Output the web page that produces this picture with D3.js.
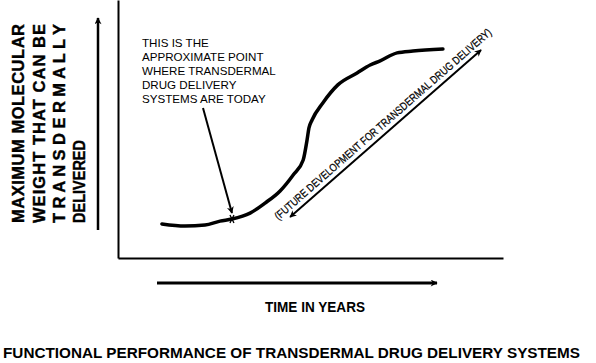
<!DOCTYPE html>
<html>
<head>
<meta charset="utf-8">
<script src="https://cdn.jsdelivr.net/npm/d3@7"></script>
<style>
  body { margin: 0; background: #fff; }
  svg { display: block; }
</style>
</head>
<body>
<div id="chart"></div>
<script>
// curve: time (0-100) vs max molecular weight (0-100), arbitrary units
const curveYears = [11.4, 17.4, 22.6, 26.5, 29.6, 34.3, 38.2, 42.1, 45.5, 48.1, 49.1, 49.6, 50.4, 53.2, 57.1, 62.1, 65.5, 68.1, 72.5, 76.6, 84.4];
const curveWeight = [13.2, 12.4, 12.8, 14.3, 15.1, 17.4, 21.3, 26.0, 32.2, 38.0, 45.7, 50.4, 53.5, 60.1, 67.1, 71.7, 74.8, 76.4, 79.5, 80.2, 81.0];

// "today" point and the future-development arrow (data units)
const todayPoint = { year: 29.6, weight: 15.1 };
const futureArrow = [{ year: 44.7, weight: 15.9 }, { year: 94.3, weight: 80.6 }];

const yLabelLines = ['MAXIMUM MOLECULAR', 'WEIGHT THAT CAN BE', 'T R A N S D E R M A L L Y', 'DELIVERED'];
const noteLines = ['THIS IS THE', 'APPROXIMATE POINT', 'WHERE TRANSDERMAL', 'DRUG DELIVERY', 'SYSTEMS ARE TODAY'];
const futureLabel = '(FUTURE DEVELOPMENT FOR TRANSDERMAL DRUG DELIVERY)';
const xLabel = 'TIME IN YEARS';
const title = 'FUNCTIONAL PERFORMANCE OF TRANSDERMAL DRUG DELIVERY SYSTEMS';

const width = 596, height = 363;
const margin = { top: 0, left: 118, right: 93, bottom: 105 };

const svg = d3.select('#chart').append('svg')
  .attr('width', width)
  .attr('height', height);

const x = d3.scaleLinear().domain([0, 100]).range([margin.left, width - margin.right]);
const y = d3.scaleLinear().domain([0, 100]).range([height - margin.bottom, margin.top]);

// arrow markers
const defs = svg.append('defs');
function marker(id, w, h) {
  defs.append('marker')
    .attr('id', id)
    .attr('viewBox', '0 0 10 10')
    .attr('refX', 9).attr('refY', 5)
    .attr('markerUnits', 'userSpaceOnUse')
    .attr('markerWidth', w).attr('markerHeight', h)
    .attr('orient', 'auto-start-reverse')
    .append('path')
    .attr('d', 'M0,0 L10,5 L0,10 L3,5 Z')
    .attr('fill', '#000');
}
marker('arr', 8, 7);
marker('arrSmall', 8, 7);

// axes frame (no ticks)
svg.append('g')
  .attr('transform', `translate(${margin.left},0)`)
  .call(d3.axisLeft(y).tickValues([]).tickSizeOuter(0))
  .select('.domain').attr('stroke-width', 2);

svg.append('g')
  .attr('transform', `translate(0,${y(0)})`)
  .call(d3.axisBottom(x).tickValues([]).tickSizeOuter(0))
  .select('.domain').attr('stroke-width', 2);

// y direction arrow
svg.append('line')
  .attr('x1', 98).attr('x2', 98)
  .attr('y1', 230).attr('y2', 18)
  .attr('stroke', '#000').attr('stroke-width', 2.5)
  .attr('marker-end', 'url(#arr)');

// x direction arrow
svg.append('line')
  .attr('x1', 157).attr('x2', 437)
  .attr('y1', 283).attr('y2', 283)
  .attr('stroke', '#000').attr('stroke-width', 3)
  .attr('marker-end', 'url(#arr)');

// y label (rotated)
const yBase = [24, 45, 65, 85];
const yLen = [199, 199, 199, 83];
yLabelLines.forEach((t, i) => {
  svg.append('text')
    .attr('transform', `translate(${yBase[i]},223) rotate(-90)`)
    .attr('font-family', 'Liberation Sans, Arial, sans-serif')
    .attr('font-weight', 'bold')
    .attr('font-size', 16.5)
    .attr('stroke', '#000').attr('stroke-width', 0.4)
    .attr('textLength', yLen[i])
    .attr('lengthAdjust', i === 3 ? 'spacingAndGlyphs' : 'spacing')
    .text(t);
});

// curve
const pts = curveYears.map((d, i) => [d, curveWeight[i]]);
svg.append('path')
  .datum(pts)
  .attr('d', d3.line().x(d => x(d[0])).y(d => y(d[1])).curve(d3.curveMonotoneX))
  .attr('fill', 'none')
  .attr('stroke', '#000')
  .attr('stroke-width', 3.5)
  .attr('stroke-linecap', 'round');

// today marker
const tx = x(todayPoint.year), ty = y(todayPoint.weight);
svg.append('path')
  .attr('d', `M${tx - 2},${ty - 4}L${tx + 2},${ty + 4}M${tx + 2},${ty - 4}L${tx - 2},${ty + 4}`)
  .attr('stroke', '#000').attr('stroke-width', 1.3);

// note text
noteLines.forEach((t, i) => {
  svg.append('text')
    .attr('x', 142)
    .attr('y', 47 + i * 14)
    .attr('font-family', 'Liberation Sans, Arial, sans-serif')
    .attr('font-size', 11.6)
    .text(t);
});

// note arrow to today point
svg.append('line')
  .attr('x1', 203).attr('y1', 108)
  .attr('x2', tx).attr('y2', ty - 6)
  .attr('stroke', '#000').attr('stroke-width', 2)
  .attr('marker-end', 'url(#arrSmall)');

// future development double arrow
const fx1 = x(futureArrow[0].year), fy1 = y(futureArrow[0].weight);
const fx2 = x(futureArrow[1].year), fy2 = y(futureArrow[1].weight);
svg.append('line')
  .attr('x1', fx1).attr('y1', fy1)
  .attr('x2', fx2).attr('y2', fy2)
  .attr('stroke', '#000').attr('stroke-width', 2)
  .attr('marker-start', 'url(#arrSmall)')
  .attr('marker-end', 'url(#arrSmall)');

const ang = Math.atan2(fy2 - fy1, fx2 - fx1);
const ux = Math.cos(ang), uy = Math.sin(ang);
const nx = uy, ny = -ux; // normal pointing up-left
const sx = fx1 - 11 * ux + 5 * nx, sy = fy1 - 11 * uy + 5 * ny;
svg.append('text')
  .attr('transform', `translate(${sx},${sy}) rotate(${ang * 180 / Math.PI})`)
  .attr('font-family', 'Liberation Sans Narrow, Liberation Sans, Arial, sans-serif')
  .attr('font-size', 11)
  .attr('stroke', '#000').attr('stroke-width', 0.25)
  .attr('textLength', 284)
  .attr('lengthAdjust', 'spacingAndGlyphs')
  .text(futureLabel);

// x label
svg.append('text')
  .attr('x', 315).attr('y', 312)
  .attr('text-anchor', 'middle')
  .attr('font-family', 'Liberation Sans, Arial, sans-serif')
  .attr('font-weight', 'bold')
  .attr('font-size', 15)
  .attr('textLength', 100)
  .attr('lengthAdjust', 'spacingAndGlyphs')
  .text(xLabel);

// title
svg.append('text')
  .attr('x', 3).attr('y', 358)
  .attr('font-family', 'Liberation Sans Narrow, Liberation Sans, Arial, sans-serif')
  .attr('font-weight', 'bold')
  .attr('font-size', 14)
  .attr('textLength', 577)
  .attr('lengthAdjust', 'spacingAndGlyphs')
  .text(title);
</script>
</body>
</html>
